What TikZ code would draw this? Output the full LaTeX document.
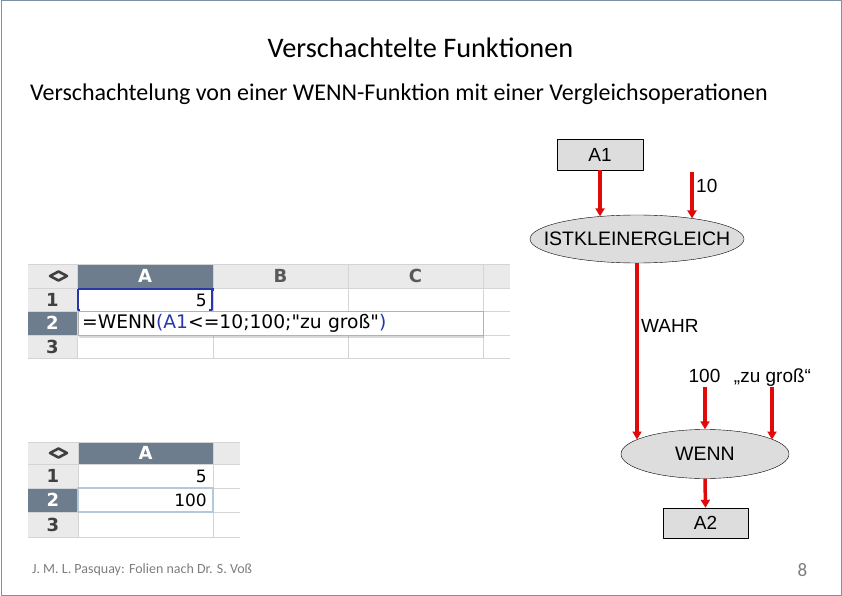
\documentclass[tikz,border=0pt]{standalone}
\usepackage{fontspec}
\setmainfont{Carlito}
\newfontfamily\arialfont{Liberation Sans}
\newfontfamily\sheetfont{DejaVu Sans}
\usetikzlibrary{arrows.meta,shapes.geometric,shadows}
\definecolor{slate}{RGB}{109,125,142}
\definecolor{hdrgray}{RGB}{234,234,234}
\definecolor{gridgray}{RGB}{212,212,212}
\definecolor{selblue}{RGB}{40,55,170}
\definecolor{cellblue}{RGB}{180,200,220}
\definecolor{flowred}{RGB}{225,10,10}
\definecolor{boxgray}{RGB}{221,221,221}
\definecolor{slideframe}{RGB}{125,145,165}
\definecolor{footgray}{RGB}{125,125,125}
\begin{document}
\begin{tikzpicture}[x=1bp,y=-1bp,line join=round,
    flow/.style={-{Triangle[width=9bp,length=8bp]},flowred,line width=3.5bp},
    cellbox/.style={draw=black,fill=boxgray,minimum width=86bp,minimum height=31bp,inner sep=0pt,font=\arialfont\fontsize{19bp}{21bp}\selectfont},
    funcbox/.style={ellipse,draw=black,fill=boxgray,inner sep=0pt,font=\arialfont\fontsize{19.5bp}{21bp}\selectfont},
    lbl/.style={inner sep=0pt,font=\arialfont\fontsize{19bp}{21bp}\selectfont},
    colhead/.style={inner sep=0pt,font=\sheetfont\bfseries\fontsize{18bp}{20bp}\selectfont},
    rowhead/.style={inner sep=0pt,text=black!75,font=\sheetfont\bfseries\fontsize{18bp}{20bp}\selectfont},
    val/.style={inner sep=0pt,anchor=base east,font=\sheetfont\fontsize{17bp}{19bp}\selectfont}]
    \useasboundingbox (0,0) rectangle (842,596);
    \draw[slideframe,line width=1bp] (1,1) rectangle (841,595);
    \node[anchor=base,font=\fontsize{28.3bp}{32bp}\selectfont] (titel) at (420.5,57.5) {Verschachtelte Funktionen};
    \node[anchor=base west,inner sep=0pt,font=\fontsize{24bp}{28bp}\selectfont] (untertitel) at (30,100.5) {Verschachtelung von einer WENN-Funktion mit einer Vergleichsoperationen};
    \node[anchor=base west,inner sep=0pt,footgray,font=\fontsize{14bp}{16bp}\selectfont] (fuss) at (32,573) {J. M. L. Pasquay: Folien nach Dr. S. Voß};
    \node[anchor=base,inner sep=0pt,footgray,font=\fontsize{19bp}{21bp}\selectfont] (seite) at (802.5,576) {8};

    \fill[hdrgray] (28,264) rectangle (510,288);
    \fill[slate] (77,264) rectangle (213,288);
    \fill[hdrgray] (28,288) rectangle (77,358);
    \fill[slate] (28,311) rectangle (77,335);
    \foreach \y in {264,288,311,335,358} \draw[gridgray,line width=.8bp] (28,\y) -- (510,\y);
    \foreach \x in {77,213,348,483} \draw[gridgray,line width=.8bp] (\x,264) -- (\x,358);
    \draw[black!75,line width=2.6bp] (50,276) -- (58.5,271.5) -- (67,276) -- (58.5,280.5) -- cycle;
    \node[colhead,white] (kopfA) at (145,276) {A};
    \node[colhead,black!65] (kopfB) at (280.5,276) {B};
    \node[colhead,black!65] (kopfC) at (415.5,276) {C};
    \node[rowhead] (zeile1) at (52.5,299.5) {1};
    \node[rowhead,white] (zeile2) at (52.5,323) {2};
    \node[rowhead] (zeile3) at (52.5,346.5) {3};
    \node[val] (wert1) at (207,306) {5};
    \draw[selblue,line width=1.2bp] (78,289) -- (212,289);
    \draw[selblue,line width=1.2bp] (78,289) -- (78,310) -- (80,310);
    \draw[selblue,line width=1.2bp] (209,310) -- (212,310) -- (212,289);
    \fill[selblue] (210.5,287.5) rectangle (214,291);
    \node[draw=black!30,fill=white,drop shadow={shadow xshift=1bp,shadow yshift=-2.5bp,opacity=.3},anchor=north west,minimum height=24bp,text width=397bp,inner xsep=4bp,inner ysep=0pt,font=\sheetfont\fontsize{18.7bp}{20bp}\selectfont] (formel) at (78,311) {=WENN{\color{selblue}(A1}<=10;100;"zu groß"{\color{selblue})}};

    \fill[hdrgray] (28,442) rectangle (240,464);
    \fill[slate] (78,442) rectangle (213,464);
    \fill[hdrgray] (28,464) rectangle (78,537);
    \fill[slate] (28,488) rectangle (78,512);
    \foreach \y in {442,464,488,512,537} \draw[gridgray,line width=.8bp] (28,\y) -- (240,\y);
    \foreach \x in {78,213} \draw[gridgray,line width=.8bp] (\x,442) -- (\x,537);
    \draw[black!75,line width=2.6bp] (50,453) -- (58.5,448.5) -- (67,453) -- (58.5,457.5) -- cycle;
    \node[colhead,white] (kopfA2) at (145.5,453) {A};
    \node[rowhead] (zeileB1) at (53,476) {1};
    \node[rowhead,white] (zeileB2) at (53,500) {2};
    \node[rowhead] (zeileB3) at (53,524.5) {3};
    \draw[cellblue,line width=1.2bp] (78,488) rectangle (213,512);
    \node[val] (wertA1) at (207,482.5) {5};
    \node[val] (wertA2) at (207,506.5) {100};

    \node[cellbox] (a1) at (600,154.5) {A1};
    \node[funcbox,minimum width=214bp,minimum height=48bp] (vgl) at (637,239) {\makebox[0pt]{ISTKLEINERGLEICH}};
    \node[funcbox,minimum width=168bp,minimum height=49bp] (wenn) at (705,454) {\makebox[0pt]{WENN}};
    \node[cellbox,minimum width=85bp,minimum height=30bp] (a2) at (705.5,523) {A2};
    \coordinate (zehn) at (692,172);
    \coordinate (hundert) at (705,387);
    \coordinate (gross) at (772,387);
    \node[lbl,anchor=base west] (lzehn) at (696,193) {10};
    \node[lbl,anchor=base west] (lwahr) at (641,332) {WAHR};
    \node[lbl,anchor=base] (lhundert) at (704.5,382) {100};
    \node[lbl,anchor=base] (lgross) at (772.5,382) {„zu groß“};
    \draw[flow] (a1.south) -- (a1.south |- vgl.149);
    \draw[flow] (zehn) -- (zehn |- vgl.20);
    \draw[flow] (vgl.south) -- (vgl.south |- wenn.168);
    \draw[flow] (hundert) -- (wenn.north);
    \draw[flow] (gross) -- (gross |- wenn.12);
    \draw[flow] (wenn.south) -- (a2.north);
\end{tikzpicture}
\end{document}
